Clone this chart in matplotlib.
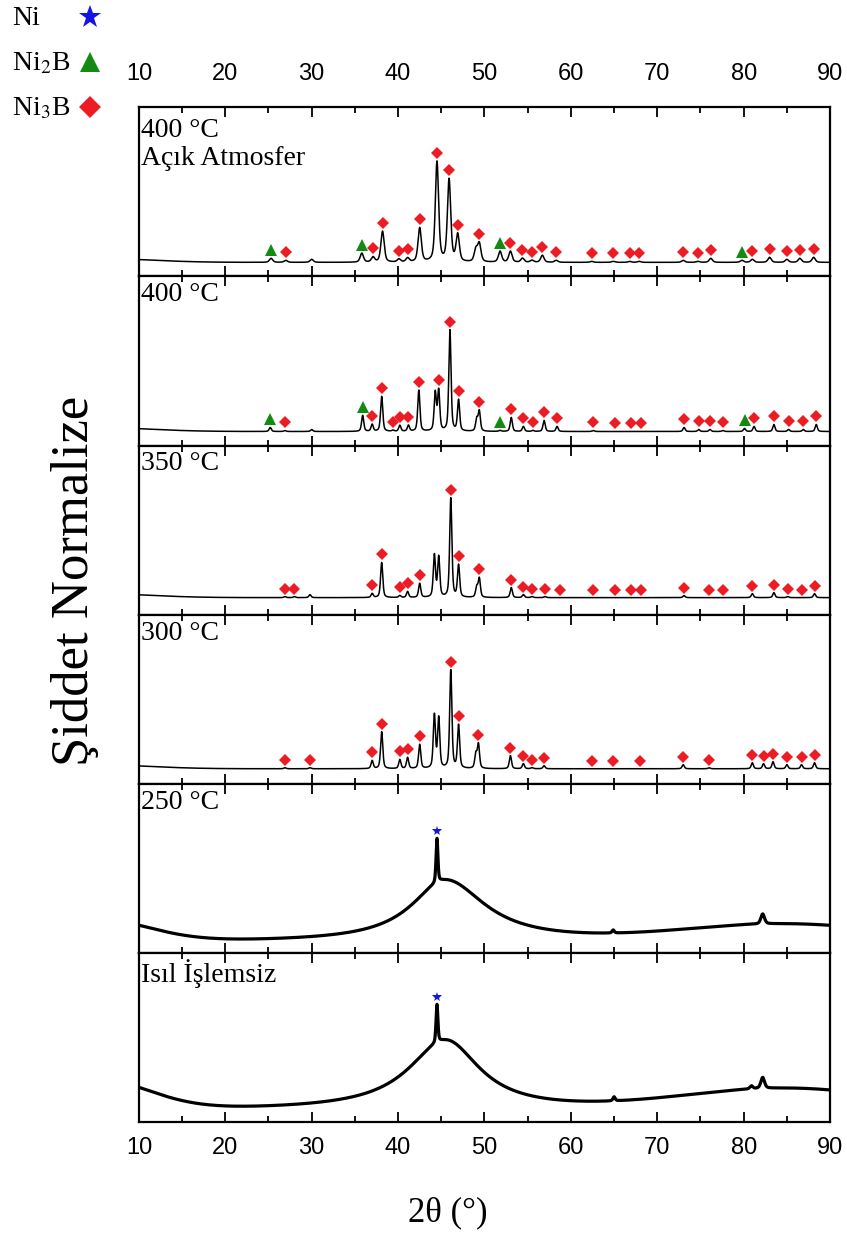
import numpy as np
import matplotlib
matplotlib.use("Agg")
import matplotlib.pyplot as plt
from matplotlib.lines import Line2D
from matplotlib.ticker import MultipleLocator

plt.rcParams['font.family'] = 'Liberation Sans'
plt.rcParams['mathtext.fontset'] = 'stix'
SERIF = 'Liberation Serif'

RED = '#ec1c24'
GREEN = '#138a13'
BLUE = '#1414e6'

panel_labels = ['400 °C\nAçık Atmosfer', '400 °C', '350 °C', '300 °C', '250 °C', 'Isıl İşlemsiz']
phase_labels = ['Ni', 'Ni$_2$B', 'Ni$_3$B']

# --- crystalline patterns: peak position (2theta) and height above baseline (a.u.)
pos_400_air = [25.3, 27.0, 30.0, 35.8, 37.1, 38.2, 40.1, 41.1, 42.5, 44.5, 45.9, 46.9, 49.0, 49.4,
               51.8, 53.0, 54.4, 55.5, 56.7, 58.3, 62.4, 64.9, 66.8, 67.9, 73.0, 74.7, 76.2,
               79.8, 81.0, 83.0, 85.0, 86.5, 88.1]
hgt_400_air = [4, 2, 3, 9, 5, 31, 3, 4, 34, 100, 82, 27, 12, 18,
               11, 11, 4, 2, 7, 2, 1, 1, 1, 1, 2, 1, 4,
               2, 3, 5, 3, 4, 5]
ni3b_400_air = [27.0, 37.1, 38.2, 40.1, 41.1, 42.5, 44.5, 45.9, 46.9, 49.4, 53.0, 54.4, 55.5, 56.7,
                58.3, 62.4, 64.9, 66.8, 67.9, 73.0, 74.7, 76.2, 81.0, 83.0, 85.0, 86.5, 88.1]
ni2b_400_air = [25.3, 35.8, 51.8, 79.8]

pos_400 = [25.2, 26.9, 30.0, 35.9, 37.0, 38.1, 39.4, 40.2, 41.2, 42.4, 44.3, 44.7, 46.0, 47.0,
           49.1, 49.4, 51.8, 53.1, 54.5, 55.6, 56.9, 58.4, 62.6, 73.1, 74.8, 76.1, 77.6,
           80.1, 81.2, 83.5, 85.2, 86.9, 88.4]
hgt_400 = [4, 1, 2, 16, 7, 35, 1, 6, 6, 41, 38, 40, 101, 31,
           12, 20, 1, 14, 5, 1, 11, 5, 1, 4, 2, 2, 1,
           3, 5, 7, 2, 2, 7]
ni3b_400 = [26.9, 37.0, 38.1, 39.4, 40.2, 41.2, 42.4, 44.7, 46.0, 47.0, 49.4, 53.1, 54.5, 55.6,
            56.9, 58.4, 62.6, 65.1, 67.0, 68.1, 73.1, 74.8, 76.1, 77.6, 81.2, 83.5, 85.2, 86.9, 88.4]
ni2b_400 = [25.2, 35.9, 51.8, 80.1]

pos_350 = [26.9, 28.0, 29.8, 37.0, 38.1, 40.2, 41.1, 42.5, 44.2, 44.7, 46.1, 47.0, 49.1, 49.4,
           53.1, 54.5, 55.5, 57.0, 73.1, 81.0, 83.5, 85.1, 88.2]
hgt_350 = [1, 1, 3, 4, 35, 2, 6, 14, 42, 40, 99, 32, 10, 19,
           10, 3, 1, 1, 2, 4, 5, 1, 4]
ni3b_350 = [26.9, 28.0, 37.0, 38.1, 40.2, 41.1, 42.5, 46.1, 47.0, 49.4, 53.1, 54.5, 55.5, 57.0,
            58.7, 62.6, 65.1, 67.0, 68.1, 73.1, 76.0, 77.6, 81.0, 83.5, 85.1, 86.7, 88.2]

pos_300 = [26.9, 29.8, 37.0, 38.1, 40.2, 41.1, 42.5, 44.2, 44.7, 46.1, 47.0, 49.0, 49.3,
           53.0, 54.5, 55.5, 56.9, 73.0, 76.0, 81.0, 82.3, 83.4, 85.0, 86.7, 88.2]
hgt_300 = [1, 1, 8, 37, 9, 11, 24, 53, 50, 98, 43, 14, 24,
           13, 5, 1, 3, 4, 1, 6, 5, 7, 4, 4, 6]
ni3b_300 = [26.9, 29.8, 37.0, 38.1, 40.2, 41.1, 42.5, 46.1, 47.0, 49.3, 53.0, 54.5, 55.5, 56.9,
            62.4, 64.9, 68.0, 73.0, 76.0, 81.0, 82.3, 83.4, 85.0, 86.7, 88.2]

baseline_cryst = [14, 14, 17, 15]     # background level of the four crystalline scans
fwhm_cryst = [0.45, 0.3, 0.3, 0.3]

# --- amorphous scans: background level, broad hump (centre, amp, left width, right width),
#     low-angle rise (amp, sigma), high-angle rise (amp, centre, sigma), sharp Ni peaks
level_250 = 11
hump_250 = [45.5, 62, 4.8, 5.6]
low_250 = [22, 6]
high_250 = [17, 85, 12]
pos_250 = [44.5, 64.9, 82.2]
hgt_250 = [44, 3, 10]
fwhm_250 = [0.25, 0.3, 0.5]
ni_250 = [44.5]

level_raw = 12
hump_raw = [45.5, 70, 5.2, 4.8]
low_raw = [30, 6]
high_raw = [21, 85, 12]
pos_raw = [44.5, 65.0, 80.9, 82.2]
hgt_raw = [38, 4, 3, 11]
fwhm_raw = [0.25, 0.3, 0.4, 0.5]
ni_raw = [44.5]


def peaks(x, pos, hgt, fwhm, eta=0.5):
    x = np.asarray(x, dtype=float)
    y = np.zeros_like(x)
    fw = np.broadcast_to(fwhm, (len(pos),))
    for p, h, w in zip(pos, hgt, fw):
        d = (x - p) / w
        y += h * (eta / (1 + 4 * d ** 2) + (1 - eta) * np.exp(-4 * np.log(2) * d ** 2))
    return y


def crystalline(x, pos, hgt, base, fwhm):
    x = np.asarray(x, dtype=float)
    return base + 4 * np.exp(-0.5 * ((x - 5) / 6) ** 2) + peaks(x, pos, hgt, fwhm)


def amorphous(x, level, hump, low, high, pos, hgt, fwhm):
    x = np.asarray(x, dtype=float)
    c, a, gl, gr = hump
    g = np.where(x < c, gl, gr)
    y = level + a / (1 + ((x - c) / g) ** 2)
    y += low[0] * np.exp(-0.5 * ((x - 5) / low[1]) ** 2)
    y += high[0] * np.exp(-0.5 * ((x - high[1]) / high[2]) ** 2)
    return y + peaks(x, pos, hgt, fwhm)


x = np.linspace(10, 90, 8001)

cryst = [(pos_400_air, hgt_400_air, ni3b_400_air, ni2b_400_air),
         (pos_400, hgt_400, ni3b_400, ni2b_400),
         (pos_350, hgt_350, ni3b_350, []),
         (pos_300, hgt_300, ni3b_300, [])]
amorph = [(level_250, hump_250, low_250, high_250, pos_250, hgt_250, fwhm_250, ni_250),
          (level_raw, hump_raw, low_raw, high_raw, pos_raw, hgt_raw, fwhm_raw, ni_raw)]

W, H = 847, 1233
fig = plt.figure(figsize=(W / 100, H / 100), dpi=100)
gs = fig.add_gridspec(6, 1, left=0.164, right=0.980, top=0.913, bottom=0.090, hspace=0)
axes = [fig.add_subplot(gs[i]) for i in range(6)]

for i, ax in enumerate(axes):
    if i < 4:
        pos, hgt, ni3b, ni2b = cryst[i]
        f = lambda t: crystalline(t, pos, hgt, baseline_cryst[i], fwhm_cryst[i])
        ax.plot(x, f(x), color='black', lw=1.1)
        ax.plot(ni3b, f(ni3b) + 8, ls='none', marker='D', ms=6.3, color=RED, mew=0)
        if ni2b:
            ax.plot(ni2b, f(ni2b) + 8, ls='none', marker='^', ms=8, color=GREEN, mew=0)
    else:
        level, hump, low, high, pos, hgt, fw, ni = amorph[i - 4]
        f = lambda t: amorphous(t, level, hump, low, high, pos, hgt, fw)
        ax.plot(x, f(x), color='black', lw=2.3)
        ax.plot(ni, f(ni) + 7, ls='none', marker='*', ms=7.5, color=BLUE, mew=0)

    ax.set_xlim(10, 90)
    ax.set_ylim(0, 169)
    ax.set_yticks([])
    ax.xaxis.set_major_locator(MultipleLocator(10))
    ax.xaxis.set_minor_locator(MultipleLocator(5))
    ax.tick_params(axis='x', which='both', direction='in', top=True, bottom=True,
                   labelbottom=(i == 5), labeltop=(i == 0), labelsize=17, width=1.3,
                   pad=(16 if i == 0 else 11))
    ax.tick_params(axis='x', which='major', length=7)
    ax.tick_params(axis='x', which='minor', length=4)
    for s in ax.spines.values():
        s.set_linewidth(1.6)

    ytop = 0.935 if i == 0 else 0.965
    ax.text(0.003, ytop, panel_labels[i], transform=ax.transAxes, ha='left', va='top',
            fontsize=20, family=SERIF, linespacing=1.15)

fig.text(0.088, 0.529, 'Şiddet Normalize', rotation=90, ha='center', va='center',
         fontsize=38, family=SERIF)
fig.text(448 / W, 1 - 1213 / H, '2θ (°)', ha='center', va='center', fontsize=25, family=SERIF)

# phase key in the top-left corner: label on the left, symbol on the right
key_markers = [('*', 17, BLUE), ('^', 15, GREEN), ('D', 11, RED)]
key_rows = [25, 70, 115]      # text baselines, px from the top
for lab, (mk, ms, col), yb in zip(phase_labels, key_markers, key_rows):
    fig.text(12 / W, 1 - yb / H, lab, ha='left', va='baseline', fontsize=20, family=SERIF)
    fig.add_artist(Line2D([90 / W], [1 - (yb - 8) / H], transform=fig.transFigure,
                          ls='none', marker=mk, ms=ms, color=col, mew=0))

fig.savefig('out.png', dpi=100)
